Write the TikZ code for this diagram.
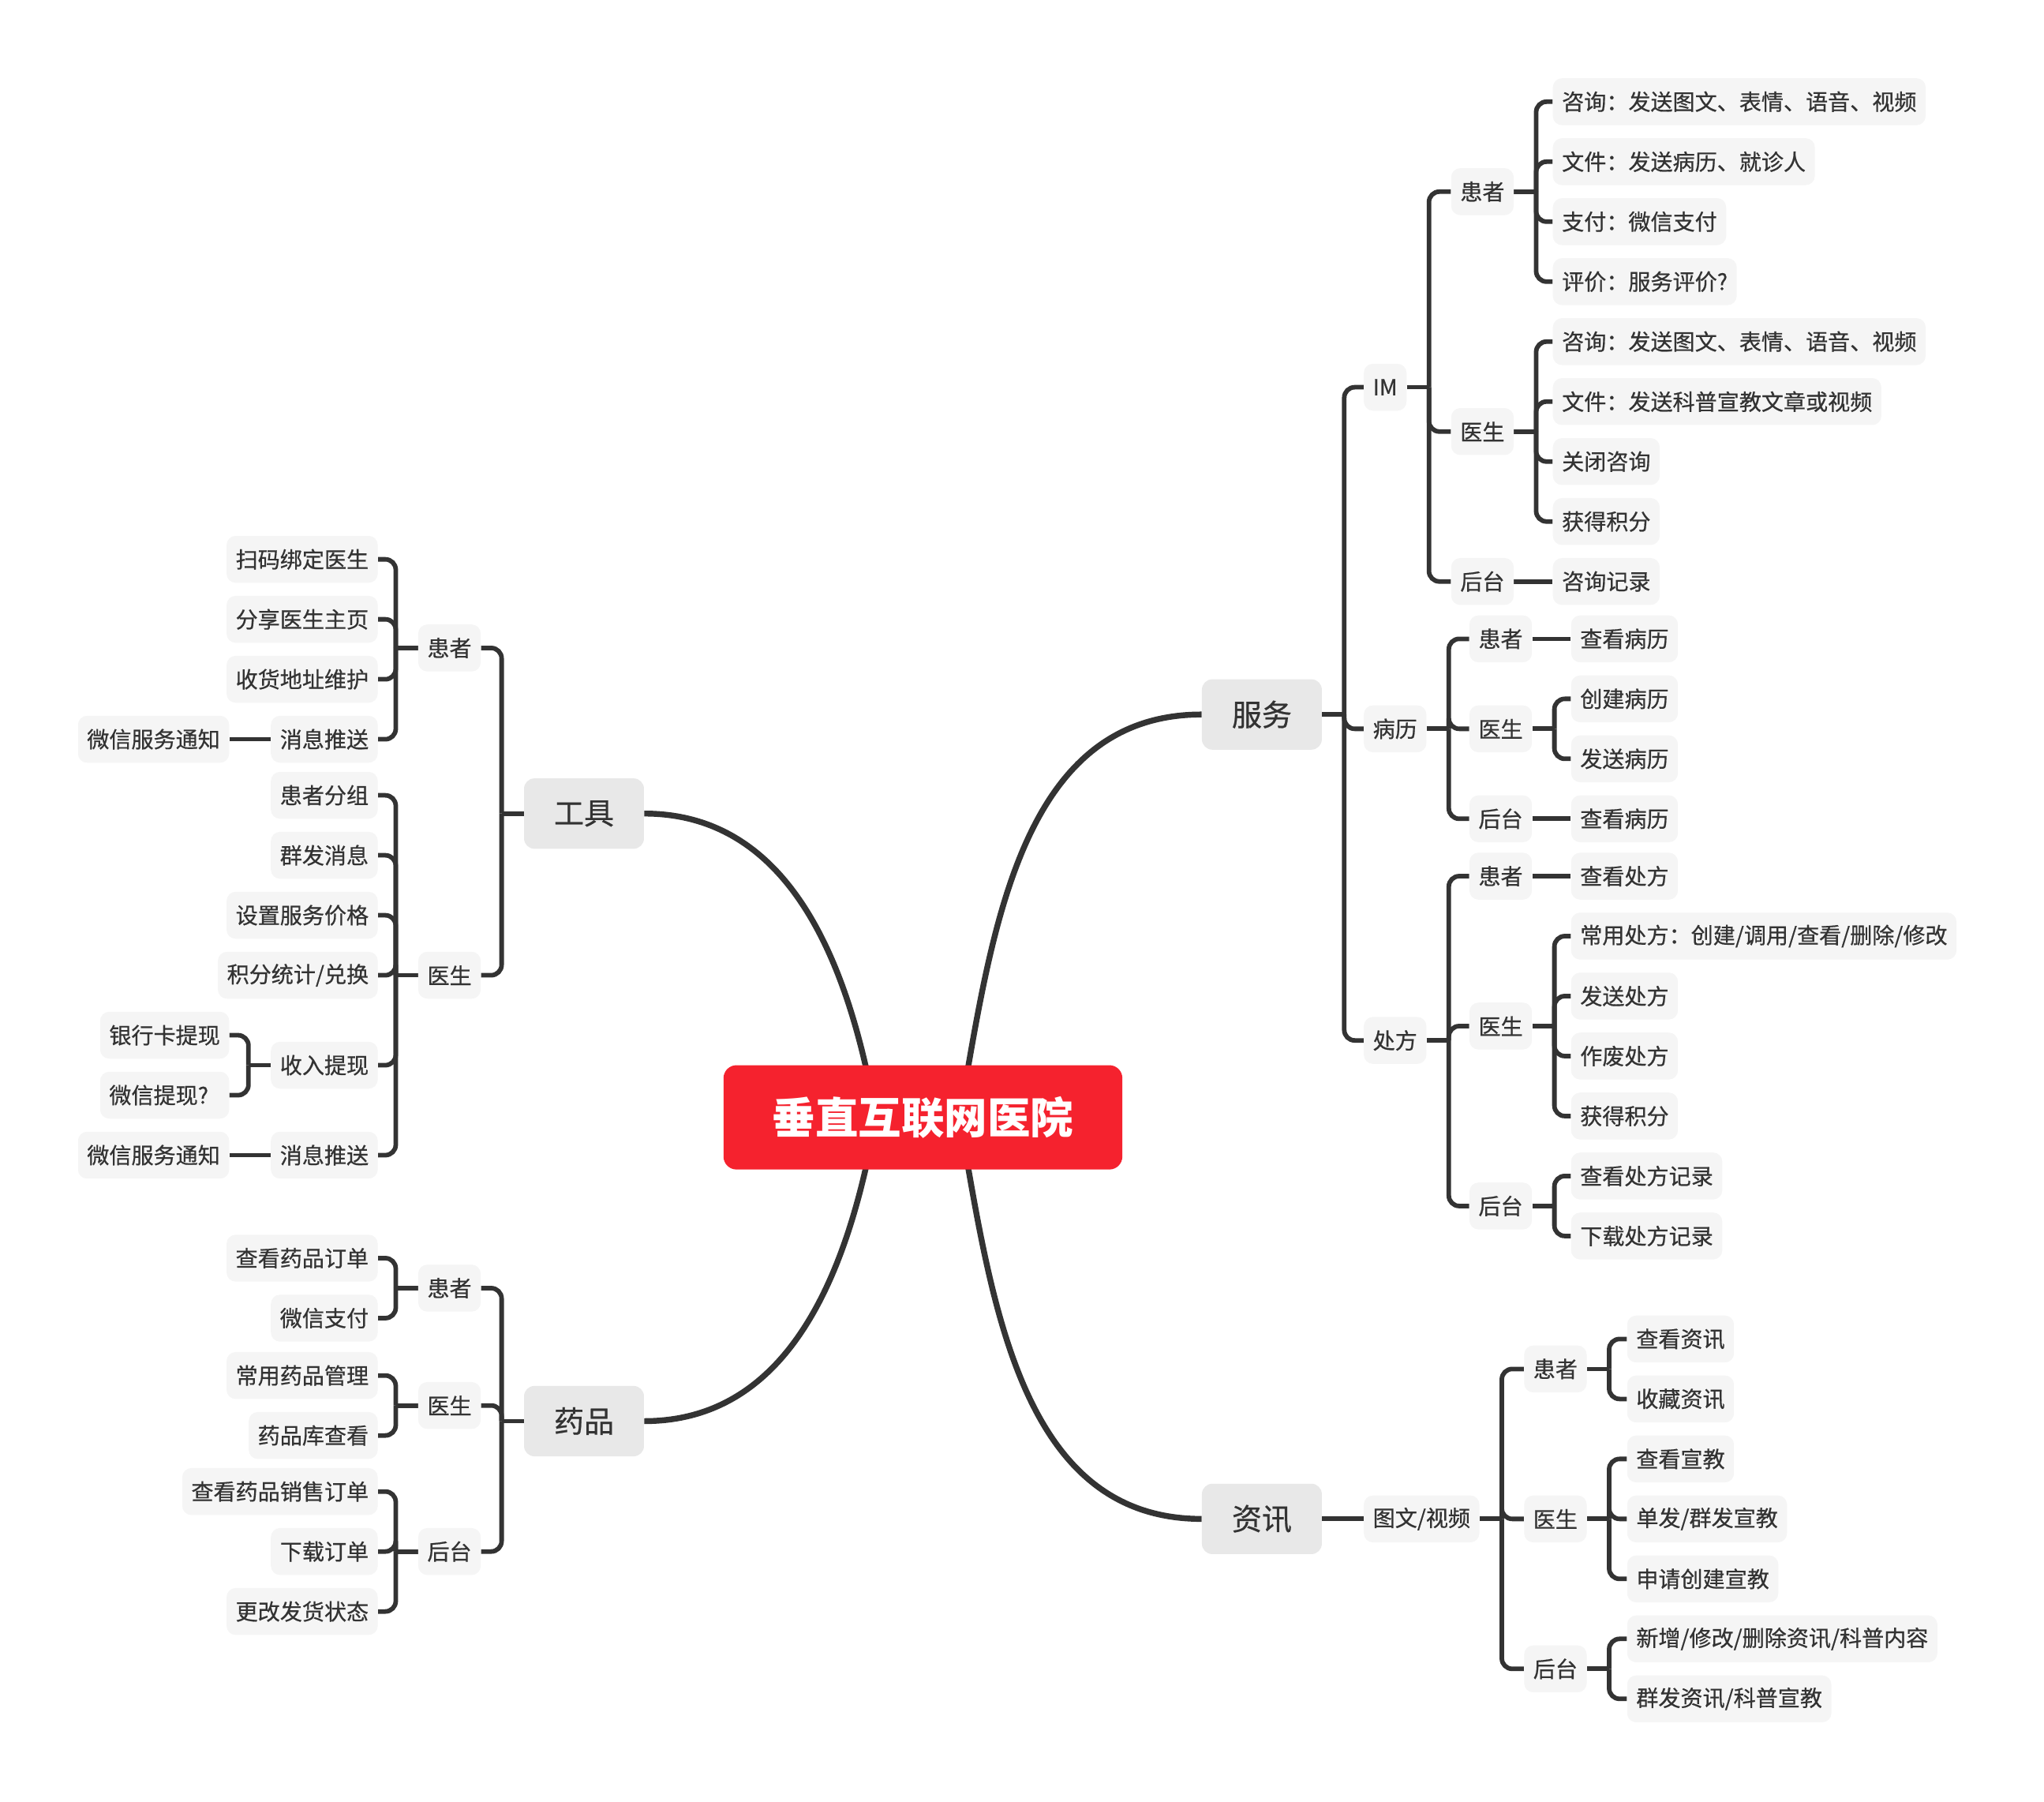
\documentclass[tikz,border=0pt]{standalone}
\usepackage{fontspec}
\setmainfont{Noto Sans CJK SC}
\newfontfamily\medfont{Noto Sans CJK SC}[FakeBold=0.6]
\usetikzlibrary{backgrounds}
\definecolor{linecol}{RGB}{51,51,51}
\definecolor{leaffill}{RGB}{245,245,245}
\definecolor{mainfill}{RGB}{232,232,232}
\definecolor{rootred}{RGB}{245,34,46}
\tikzset{
  root/.style={fill=rootred, rounded corners=10pt, minimum width=306pt, minimum height=80pt,
    text=white, font=\fontsize{33}{33}\selectfont\bfseries},
  mainbox/.style={fill=mainfill, rounded corners=8pt, minimum width=92pt, minimum height=54pt,
    text=linecol, font=\fontsize{23}{23}\selectfont\medfont},
  item/.style={fill=leaffill, rounded corners=7pt, minimum height=36pt, inner xsep=7pt,
    text=linecol, font=\fontsize{17}{17}\selectfont\medfont},
  link/.style={draw=linecol, line width=3.5pt, rounded corners=8pt},
  mainlink/.style={draw=linecol, line width=4.5pt}
}
\begin{document}
\begin{tikzpicture}[x=1pt, y=-1pt]
                \useasboundingbox (0,0) rectangle (1568,1382);
                \node[root] (root) at (708,857) {垂直互联网医院};
                \node[mainbox] (fw) at (968,548) {服务};
                \node[mainbox] (zx) at (968,1165) {资讯};
                \node[mainbox] (gj) at (448,624) {工具};
                \node[mainbox] (yp) at (448,1090) {药品};
                % 服务
                \node[item, anchor=west] (im) at (1046,297) {IM};
                \node[item, anchor=west] (bl) at (1046,559) {病历};
                \node[item, anchor=west] (cf) at (1046,798) {处方};
                \node[item, anchor=west] (imhz) at (1113,147) {患者};
                \node[item, anchor=west] (imys) at (1113,331) {医生};
                \node[item, anchor=west] (imht) at (1113,446) {后台};
                \node[item, anchor=west] (imhz1) at (1191,78) {咨询：发送图文、表情、语音、视频};
                \node[item, anchor=west] (imhz2) at (1191,124) {文件：发送病历、就诊人};
                \node[item, anchor=west] (imhz3) at (1191,170) {支付：微信支付};
                \node[item, anchor=west] (imhz4) at (1191,216) {评价：服务评价?};
                \node[item, anchor=west] (imys1) at (1191,262) {咨询：发送图文、表情、语音、视频};
                \node[item, anchor=west] (imys2) at (1191,308) {文件：发送科普宣教文章或视频};
                \node[item, anchor=west] (imys3) at (1191,354) {关闭咨询};
                \node[item, anchor=west] (imys4) at (1191,400) {获得积分};
                \node[item, anchor=west] (imht1) at (1191,446) {咨询记录};
                \node[item, anchor=west] (blhz) at (1127,490) {患者};
                \node[item, anchor=west] (blys) at (1127,559) {医生};
                \node[item, anchor=west] (blht) at (1127,628) {后台};
                \node[item, anchor=west] (blhz1) at (1205,490) {查看病历};
                \node[item, anchor=west] (blys1) at (1205,536) {创建病历};
                \node[item, anchor=west] (blys2) at (1205,582) {发送病历};
                \node[item, anchor=west] (blht1) at (1205,628) {查看病历};
                \node[item, anchor=west] (cfhz) at (1127,672) {患者};
                \node[item, anchor=west] (cfys) at (1127,787) {医生};
                \node[item, anchor=west] (cfht) at (1127,925) {后台};
                \node[item, anchor=west] (cfhz1) at (1205,672) {查看处方};
                \node[item, anchor=west] (cfys1) at (1205,718) {常用处方：创建/调用/查看/删除/修改};
                \node[item, anchor=west] (cfys2) at (1205,764) {发送处方};
                \node[item, anchor=west] (cfys3) at (1205,810) {作废处方};
                \node[item, anchor=west] (cfys4) at (1205,856) {获得积分};
                \node[item, anchor=west] (cfht1) at (1205,902) {查看处方记录};
                \node[item, anchor=west] (cfht2) at (1205,948) {下载处方记录};
                % 资讯
                \node[item, anchor=west] (tw) at (1046,1165) {图文/视频};
                \node[item, anchor=west] (zxhz) at (1169,1050) {患者};
                \node[item, anchor=west] (zxys) at (1169,1165) {医生};
                \node[item, anchor=west] (zxht) at (1169,1280) {后台};
                \node[item, anchor=west] (zxhz1) at (1248,1027) {查看资讯};
                \node[item, anchor=west] (zxhz2) at (1248,1073) {收藏资讯};
                \node[item, anchor=west] (zxys1) at (1248,1119) {查看宣教};
                \node[item, anchor=west] (zxys2) at (1248,1165) {单发/群发宣教};
                \node[item, anchor=west] (zxys3) at (1248,1211) {申请创建宣教};
                \node[item, anchor=west] (zxht1) at (1248,1257) {新增/修改/删除资讯/科普内容};
                \node[item, anchor=west] (zxht2) at (1248,1303) {群发资讯/科普宣教};
                % 工具
                \node[item, anchor=east] (gjhz) at (369,497) {患者};
                \node[item, anchor=east] (gjys) at (369,748) {医生};
                \node[item, anchor=east] (gjhz1) at (290,429) {扫码绑定医生};
                \node[item, anchor=east] (gjhz2) at (290,475) {分享医生主页};
                \node[item, anchor=east] (gjhz3) at (290,521) {收货地址维护};
                \node[item, anchor=east] (gjhz4) at (290,567) {消息推送};
                \node[item, anchor=east] (gjtz1) at (176,567) {微信服务通知};
                \node[item, anchor=east] (gjys1) at (290,610) {患者分组};
                \node[item, anchor=east] (gjys2) at (290,656) {群发消息};
                \node[item, anchor=east] (gjys3) at (290,702) {设置服务价格};
                \node[item, anchor=east] (gjys4) at (290,748) {积分统计/兑换};
                \node[item, anchor=east] (gjys5) at (290,817) {收入提现};
                \node[item, anchor=east] (gjys6) at (290,886) {消息推送};
                \node[item, anchor=east, text width=85pt] (tx1) at (176,794) {银行卡提现};
                \node[item, anchor=east, text width=85pt] (tx2) at (176,840) {微信提现?};
                \node[item, anchor=east] (gjtz2) at (176,886) {微信服务通知};
                % 药品
                \node[item, anchor=east] (yphz) at (369,988) {患者};
                \node[item, anchor=east] (ypys) at (369,1078) {医生};
                \node[item, anchor=east] (ypht) at (369,1190) {后台};
                \node[item, anchor=east] (yphz1) at (290,965) {查看药品订单};
                \node[item, anchor=east] (yphz2) at (290,1011) {微信支付};
                \node[item, anchor=east] (ypys1) at (290,1055) {常用药品管理};
                \node[item, anchor=east] (ypys2) at (290,1101) {药品库查看};
                \node[item, anchor=east] (ypht1) at (290,1144) {查看药品销售订单};
                \node[item, anchor=east] (ypht2) at (290,1190) {下载订单};
                \node[item, anchor=east] (ypht3) at (290,1236) {更改发货状态};
                \begin{pgfonlayer}{background}
                \draw[mainlink] ([xshift=-36]root.center) to[out=100,in=0] (gj.east);
                \draw[mainlink] ([xshift=-36]root.center) to[out=-100,in=0] (yp.east);
                \draw[mainlink] ([xshift=28]root.center) to[out=80,in=180] (fw.west);
                \draw[mainlink] ([xshift=28]root.center) to[out=-80,in=180] (zx.west);
                \foreach \p/\kids in {fw/{im,bl,cf}, im/{imhz,imys,imht}, imhz/{imhz1,imhz2,imhz3,imhz4},
                    imys/{imys1,imys2,imys3,imys4}, bl/{blhz,blys,blht},
                    blys/{blys1,blys2}, cf/{cfhz,cfys,cfht},
                    cfys/{cfys1,cfys2,cfys3,cfys4}, cfht/{cfht1,cfht2}, tw/{zxhz,zxys,zxht},
                    zxhz/{zxhz1,zxhz2}, zxys/{zxys1,zxys2,zxys3}, zxht/{zxht1,zxht2}} {
                    \coordinate (\p j) at ([xshift=17]\p.east);
                    \draw[link] (\p.east) -- (\p j);
                    \foreach \c in \kids
                        \draw[link] (\p j) |- (\c.west);
                }
                \foreach \p/\c in {imht/imht1, blhz/blhz1, blht/blht1, cfhz/cfhz1, zx/tw}
                    \draw[link] (\p.east) -- (\c.west);
                \foreach \p/\kids in {gj/{gjhz,gjys}, gjhz/{gjhz1,gjhz2,gjhz3,gjhz4},
                    gjys/{gjys1,gjys2,gjys3,gjys4,gjys5,gjys6}, gjys5/{tx1,tx2},
                    yp/{yphz,ypys,ypht}, yphz/{yphz1,yphz2}, ypys/{ypys1,ypys2},
                    ypht/{ypht1,ypht2,ypht3}} {
                    \coordinate (\p j) at ([xshift=-17]\p.west);
                    \draw[link] (\p.west) -- (\p j);
                    \foreach \c in \kids
                        \draw[link] (\p j) |- (\c.east);
                }
                \foreach \p/\c in {gjhz4/gjtz1, gjys6/gjtz2}
                    \draw[link] (\p.west) -- (\c.east);
                \end{pgfonlayer}
            \end{tikzpicture}
\end{document}
